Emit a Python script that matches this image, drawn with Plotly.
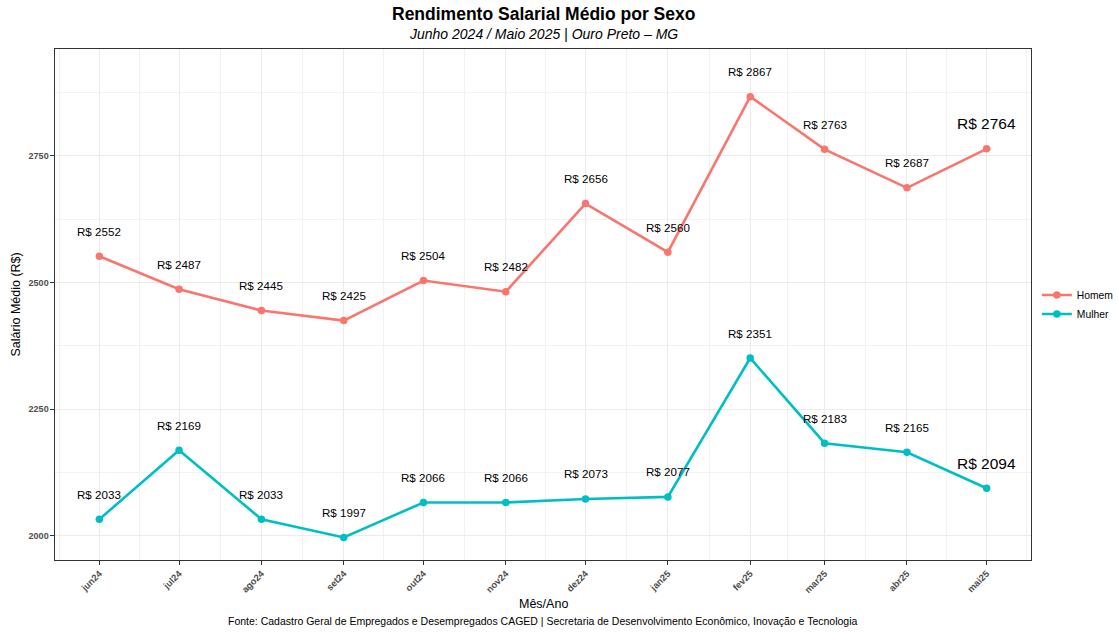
import pandas as pd
import plotly.graph_objects as go

# ---- data ----
meses = ["2024-06-01", "2024-07-01", "2024-08-01", "2024-09-01", "2024-10-01", "2024-11-01",
         "2024-12-01", "2025-01-01", "2025-02-01", "2025-03-01", "2025-04-01", "2025-05-01"]
rotulos_meses = ["jun24", "jul24", "ago24", "set24", "out24", "nov24",
                 "dez24", "jan25", "fev25", "mar25", "abr25", "mai25"]
homem = [2552, 2487, 2445, 2425, 2504, 2482, 2656, 2560, 2867, 2763, 2687, 2764]
mulher = [2033, 2169, 2033, 1997, 2066, 2066, 2073, 2077, 2351, 2183, 2165, 2094]
y_ticks = [2000, 2250, 2500, 2750]

COR_H = "#F8766D"
COR_M = "#00BFC4"
FONTE = "Liberation Sans, Arial, sans-serif"

datas = pd.to_datetime(meses)
span = datas[-1] - datas[0]
x_range = [datas[0] - span * 0.05, datas[-1] + span * 0.05]

# minor breaks at midpoints (also beyond ends)
mids = [datas[i] + (datas[i + 1] - datas[i]) / 2 for i in range(len(datas) - 1)]
mids = [datas[0] - (datas[1] - datas[0]) / 2] + mids + [datas[-1] + (datas[-1] - datas[-2]) / 2]
y_minor = [(y_ticks[i] + y_ticks[i + 1]) / 2 for i in range(len(y_ticks) - 1)]
y_minor += [y_ticks[-1] + 125]

fig = go.Figure()
for nome, vals, cor in [("Homem", homem, COR_H), ("Mulher", mulher, COR_M)]:
    fig.add_trace(go.Scatter(
        x=datas, y=vals, name=nome, mode="lines+markers",
        line=dict(color=cor, width=2.6),
        marker=dict(color=cor, size=7.5),
        hoverinfo="skip",
    ))
    for i, (d, v) in enumerate(zip(datas, vals)):
        ultimo = i == len(vals) - 1
        fig.add_annotation(
            x=d, y=v, xref="x", yref="y", text=f"R$ {v}", showarrow=False,
            yshift=25, yanchor="middle", xanchor="center",
            font=dict(family=FONTE, size=15.5 if ultimo else 11.6, color="#000000"),
        )

# titles & captions
fig.add_annotation(xref="paper", yref="paper", x=0.5, y=1, yshift=35, yanchor="middle",
                   text="<b>Rendimento Salarial Médio por Sexo</b>", showarrow=False,
                   font=dict(family=FONTE, size=17.5, color="#000000"))
fig.add_annotation(xref="paper", yref="paper", x=0.5, y=1, yshift=15, yanchor="middle",
                   text="<i>Junho 2024 / Maio 2025 | Ouro Preto – MG</i>", showarrow=False,
                   font=dict(family=FONTE, size=14, color="#000000"))
fig.add_annotation(xref="paper", yref="paper", x=0.5, y=0, yshift=-44, yanchor="middle",
                   text="Mês/Ano", showarrow=False,
                   font=dict(family=FONTE, size=12.5, color="#000000"))
fig.add_annotation(xref="paper", yref="paper", x=0.5, y=0, yshift=-61, yanchor="middle",
                   text="Fonte: Cadastro Geral de Empregados e Desempregados CAGED | Secretaria de Desenvolvimento Econômico, Inovação e Tecnologia",
                   showarrow=False, font=dict(family=FONTE, size=10.5, color="#000000"))
fig.add_annotation(xref="paper", yref="paper", x=0, y=0.5, xshift=-40, xanchor="center", yanchor="middle",
                   text="Salário Médio (R$)", textangle=-90, showarrow=False,
                   font=dict(family=FONTE, size=12.5, color="#000000"))

fig.update_layout(
    width=1118, height=632,
    margin=dict(l=55, r=87, t=49, b=72, autoexpand=False),
    paper_bgcolor="white", plot_bgcolor="white",
    font=dict(family=FONTE),
    showlegend=True,
    legend=dict(x=1.006, xanchor="left", y=0.5, yanchor="middle",
                font=dict(family=FONTE, size=10.3, color="#000000"),
                bgcolor="rgba(0,0,0,0)", tracegroupgap=0, itemwidth=30),
)
fig.update_xaxes(
    range=x_range, tickmode="array", tickvals=list(datas), ticktext=rotulos_meses,
    tickangle=-45, tickfont=dict(family=FONTE, size=9.3, color="#4D4D4D", weight="bold"),
    ticks="outside", ticklen=3.5, tickcolor="#333333", tickwidth=1,
    showgrid=True, gridcolor="#EBEBEB", gridwidth=1,
    minor=dict(tickmode="array", tickvals=mids, showgrid=True, gridcolor="#F2F2F2", gridwidth=0.6, ticks=""),
    showline=True, linecolor="#333333", linewidth=1.1, mirror=True, zeroline=False,
)
fig.update_yaxes(
    range=[1952.5, 2961], tickmode="array", tickvals=y_ticks,
    tickfont=dict(family=FONTE, size=9, color="#4D4D4D", weight="bold"),
    ticks="outside", ticklen=3.5, tickcolor="#333333", tickwidth=1,
    showgrid=True, gridcolor="#EBEBEB", gridwidth=1,
    minor=dict(tickmode="array", tickvals=y_minor, showgrid=True, gridcolor="#F2F2F2", gridwidth=0.6, ticks=""),
    showline=True, linecolor="#333333", linewidth=1.1, mirror=True, zeroline=False,
)

fig.write_html("out.html", config={"displayModeBar": False},
               post_script="document.body.style.margin='0';")
